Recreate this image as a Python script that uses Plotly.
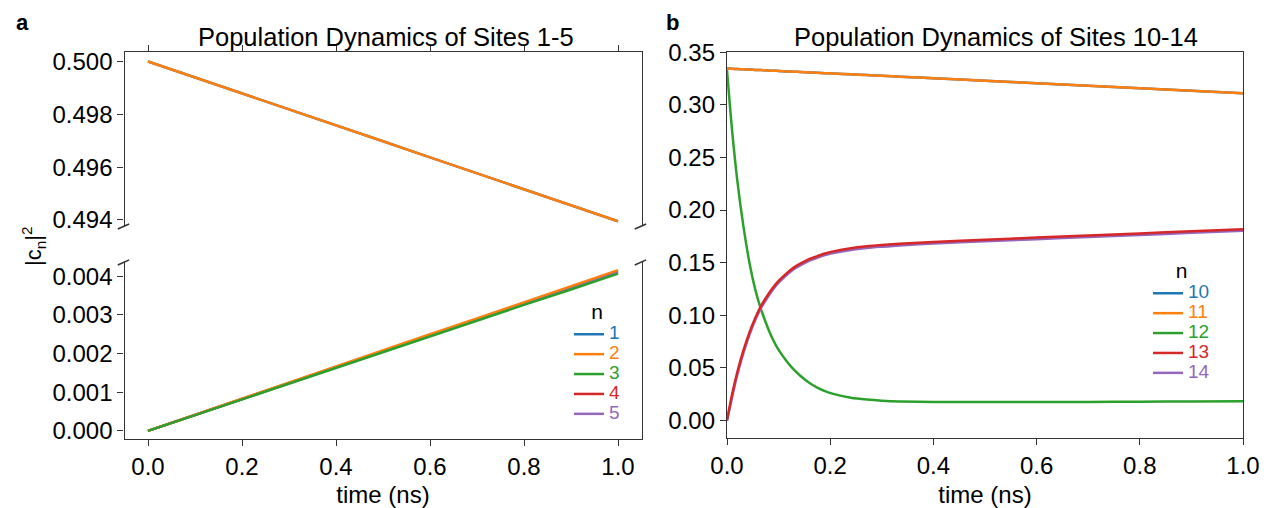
import plotly.graph_objects as go

# ---------------- data ----------------
colors = ["#1f77b4", "#ff7f0e", "#2ca02c", "#d62728", "#9467bd"]

# panel a (sites 1-5)
t_a = [0.0, 0.1, 0.2, 0.3, 0.4, 0.5, 0.6, 0.7, 0.8, 0.9, 1.0]
site1_high = [0.50000, 0.49940, 0.49879, 0.49819, 0.49758, 0.49698, 0.49637, 0.49577, 0.49516, 0.49456, 0.49395]
site2_high = [0.50000, 0.49940, 0.49879, 0.49819, 0.49758, 0.49698, 0.49637, 0.49577, 0.49516, 0.49456, 0.49395]
site1_low = [0.0, 0.00041, 0.00083, 0.00124, 0.00166, 0.00207, 0.00248, 0.00290, 0.00331, 0.00373, 0.00414]
site2_low = [0.0, 0.00042, 0.00083, 0.00125, 0.00166, 0.00208, 0.00250, 0.00291, 0.00333, 0.00374, 0.00416]
site3_low = [0.0, 0.00041, 0.00081, 0.00122, 0.00163, 0.00204, 0.00244, 0.00285, 0.00326, 0.00366, 0.00407]
site4_low = [0.0, 0.00041, 0.00082, 0.00124, 0.00165, 0.00206, 0.00247, 0.00288, 0.00330, 0.00371, 0.00412]
site5_low = [0.0, 0.00041, 0.00082, 0.00123, 0.00164, 0.00205, 0.00246, 0.00287, 0.00328, 0.00369, 0.00410]

# panel b (sites 10-14)
t_b = [0.0, 0.01, 0.02, 0.032, 0.045, 0.055, 0.065, 0.08, 0.09, 0.10, 0.116, 0.13, 0.142,
       0.16, 0.174, 0.19, 0.206, 0.24, 0.271, 0.30, 0.335, 0.40, 0.50, 0.60, 0.70, 0.80, 0.90, 1.0]
site10 = [0.3345, 0.3343, 0.3340, 0.3338, 0.3335, 0.3332, 0.3330, 0.3326, 0.3324, 0.3322, 0.3318,
          0.3315, 0.3312, 0.3308, 0.3305, 0.3301, 0.3298, 0.3290, 0.3283, 0.3276, 0.3268, 0.3253,
          0.3229, 0.3206, 0.3182, 0.3158, 0.3134, 0.3110]
site11 = [0.3345, 0.3343, 0.3340, 0.3338, 0.3335, 0.3332, 0.3330, 0.3326, 0.3324, 0.3322, 0.3318,
          0.3315, 0.3312, 0.3308, 0.3305, 0.3301, 0.3298, 0.3290, 0.3283, 0.3276, 0.3268, 0.3253,
          0.3229, 0.3206, 0.3182, 0.3158, 0.3134, 0.3110]
site12 = [0.333, 0.275, 0.228, 0.184, 0.146, 0.124, 0.107, 0.087, 0.076, 0.067, 0.056, 0.048, 0.0425,
          0.0355, 0.0315, 0.0278, 0.0252, 0.0215, 0.0198, 0.0188, 0.0181, 0.0176, 0.0175, 0.0175,
          0.0176, 0.0178, 0.0180, 0.0182]
site13 = [0.0, 0.0250, 0.0460, 0.0668, 0.0856, 0.0976, 0.1080, 0.1200, 0.1268, 0.1326, 0.1400,
          0.1455, 0.1490, 0.1535, 0.1560, 0.1587, 0.1607, 0.1637, 0.1655, 0.1667, 0.1679, 0.1696,
          0.1718, 0.1738, 0.1758, 0.1778, 0.1798, 0.1818]
site14 = [0.0, 0.0225, 0.0435, 0.0645, 0.0834, 0.0956, 0.1060, 0.1181, 0.1250, 0.1309, 0.1384,
          0.1439, 0.1474, 0.1519, 0.1544, 0.1571, 0.1591, 0.1621, 0.1639, 0.1651, 0.1664, 0.1681,
          0.1703, 0.1723, 0.1743, 0.1763, 0.1783, 0.1803]

labels_a = ["1", "2", "3", "4", "5"]
labels_b = ["10", "11", "12", "13", "14"]
x_ticks = [0.0, 0.2, 0.4, 0.6, 0.8, 1.0]
y_ticks_high = [0.494, 0.496, 0.498, 0.500]
y_ticks_low = [0.000, 0.001, 0.002, 0.003, 0.004]
y_ticks_b = [0.00, 0.05, 0.10, 0.15, 0.20, 0.25, 0.30, 0.35]

# ---------------- layout helpers ----------------
W, H = 1264, 508
FONT = "Liberation Sans, Arial, Helvetica, sans-serif"
AX = "#333333"
LW = 2.5


def fx(p):
    return p / W


def fy(p):
    return 1 - p / H


def legname(txt, c):
    return f"<span style='font-size:19px;color:{c}'>{txt}</span>"


fig = go.Figure()

# panel a, upper part
for vals, c in [(site1_high, colors[0]), (site2_high, colors[1])]:
    fig.add_trace(go.Scatter(x=t_a, y=vals, mode="lines", line=dict(color=c, width=LW),
                             xaxis="x2", yaxis="y2", showlegend=False, hoverinfo="skip"))

# panel a, lower part (draw order: blue, red, purple, orange, green)
low_sets = [(0, site1_low), (3, site4_low), (4, site5_low), (1, site2_low), (2, site3_low)]
for i, vals in low_sets:
    fig.add_trace(go.Scatter(x=t_a, y=vals, mode="lines", line=dict(color=colors[i], width=LW),
                             xaxis="x", yaxis="y", name=legname(labels_a[i], colors[i]),
                             legend="legend", legendrank=i + 1))

# panel b (draw order: 10, 11, 12, 14, 13)
b_sets = [(0, site10), (1, site11), (2, site12), (4, site14), (3, site13)]
for i, vals in b_sets:
    fig.add_trace(go.Scatter(x=t_b, y=vals, mode="lines",
                             line=dict(color=colors[i], width=LW, shape="spline", smoothing=0.8),
                             xaxis="x3", yaxis="y3", name=legname(labels_b[i], colors[i]),
                             legend="legend2", legendrank=i + 1))

tickfont = dict(family=FONT, size=24, color="black")
common = dict(showgrid=False, zeroline=False, showline=True, linecolor=AX, linewidth=1.3,
              ticks="outside", ticklen=6, tickwidth=1.2, tickcolor=AX, tickfont=tickfont,
              automargin=False)

xa_dom = [fx(124.5), fx(641.5)]
xb_dom = [fx(727), fx(1243)]

legend_common = dict(xanchor="left", yanchor="top", bgcolor="rgba(0,0,0,0)",
                     borderwidth=0, font=dict(family=FONT, size=13), itemwidth=30, tracegroupgap=0,
                     traceorder="normal",
                     title=dict(text="n", side="top center", font=dict(family=FONT, size=21, color="black")))

fig.update_layout(
    template="none",
    width=W, height=H,
    margin=dict(l=0, r=0, t=0, b=0, pad=0, autoexpand=False),
    paper_bgcolor="white", plot_bgcolor="white",
    font=dict(family=FONT, color="black"),
    xaxis=dict(domain=xa_dom, anchor="y", range=[-0.05, 1.05], tickvals=x_ticks, tickformat=".1f",
               title=dict(text="time (ns)", font=dict(family=FONT, size=24), standoff=8), **common),
    yaxis=dict(domain=[fy(439), fy(262)], anchor="x", range=[-0.00021, 0.00437], tickvals=y_ticks_low,
               tickformat=".3f", mirror=True, **common),
    xaxis2=dict(domain=xa_dom, anchor="y2", side="top", range=[-0.05, 1.05], tickvals=x_ticks,
                showticklabels=False, matches="x", **common),
    yaxis2=dict(domain=[fy(226), fy(52)], anchor="x2", range=[0.49377, 0.50036], tickvals=y_ticks_high,
                tickformat=".3f", mirror=True, **common),
    xaxis3=dict(domain=xb_dom, anchor="y3", range=[0, 1], tickvals=x_ticks, tickformat=".1f", mirror=True,
                title=dict(text="time (ns)", font=dict(family=FONT, size=24), standoff=8), **common),
    yaxis3=dict(domain=[fy(438), fy(51.5)], anchor="x3", range=[-0.0167, 0.3507], tickvals=y_ticks_b,
                tickformat=".2f", mirror=True, **common),
    legend=dict(x=fx(569), y=fy(292), **legend_common),
    legend2=dict(x=fx(1148), y=fy(251), **legend_common),
)

annots = [
    dict(text="Population Dynamics of Sites 1-5", x=fx(386), y=fy(37), size=25.5),
    dict(text="Population Dynamics of Sites 10-14", x=fx(996), y=fy(37), size=25.5),
    dict(text="<b>a</b>", x=fx(22), y=fy(22), size=22),
    dict(text="<b>b</b>", x=fx(673), y=fy(22), size=22),
]
for a in annots:
    fig.add_annotation(text=a["text"], x=a["x"], y=a["y"], xref="paper", yref="paper",
                       xanchor="center", yanchor="middle", showarrow=False,
                       font=dict(family=FONT, size=a["size"], color="black"))

fig.add_annotation(text="|c<sub>n</sub>|<sup>2</sup>", x=fx(33), y=fy(246), xref="paper", yref="paper",
                   xanchor="center", yanchor="middle", showarrow=False, textangle=-90,
                   font=dict(family=FONT, size=22, color="black"))

# broken-axis marks
for xr, yr, yy in [("x2 domain", "y2 domain", 0.0), ("x domain", "y domain", 1.0)]:
    for xx in (0.0, 1.0):
        fig.add_shape(type="line", xref=xr, yref=yr, x0=xx - 0.013, x1=xx + 0.009,
                      y0=yy - 0.017, y1=yy + 0.012, line=dict(color=AX, width=1.6))

fig.write_html("out.html", config={"displayModeBar": False},
               post_script="document.body.style.margin='0px';")
